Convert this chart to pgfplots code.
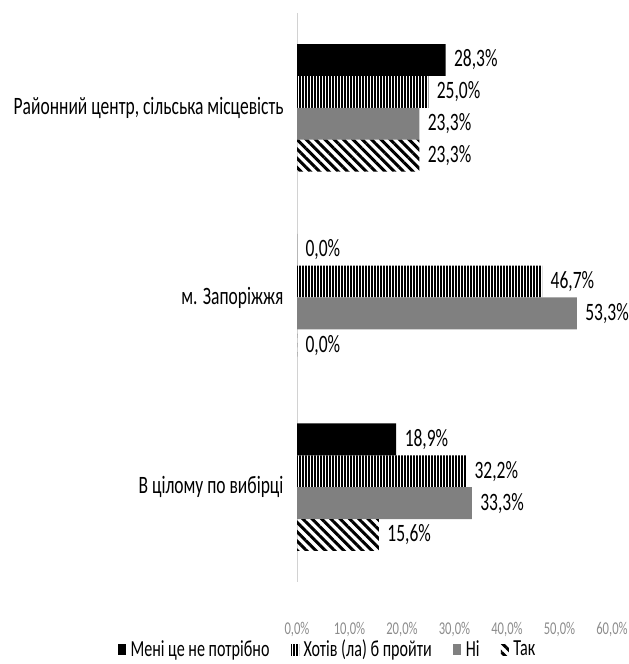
\documentclass[border=0pt]{standalone}
\usepackage{fontspec}
\setmainfont{Carlito}[FakeStretch=0.7]
\usepackage{pgfplots}
\pgfplotsset{compat=1.18}
\usetikzlibrary{patterns.meta}
\definecolor{barGray}{RGB}{128,128,128}
\definecolor{tickGray}{RGB}{140,140,140}
\definecolor{axisGray}{RGB}{210,210,210}
\newcommand\lblfont{\fontsize{25bp}{29bp}\selectfont}
\newcommand\legfont{\fontsize{23bp}{25bp}\selectfont}
\newcommand\tickfont{\fontsize{18bp}{21bp}\selectfont}

% shares, percent; rows: district centre / Zaporizhzhia / whole sample
\pgfplotstableread{
pos notneed want no yes
0   28.3    25.0 23.3 23.3
1   0.0     46.7 53.3 0.0
2   18.9    32.2 33.3 15.6
}\survey

\begin{document}
\begin{tikzpicture}[x=1bp,y=1bp]
\path[use as bounding box] (0,0) rectangle (629,664);
\begin{axis}[
  at={(297bp,82bp)}, anchor=south west,
  scale only axis, width=315bp, height=569bp,
  xbar=0pt, bar width=0.168,
  xmin=0, xmax=60, ymin=-0.5, ymax=2.5, y dir=reverse,
  axis lines*=left,
  x axis line style={draw=none},
  y axis line style={draw=axisGray, line width=1bp},
  major tick length=0pt,
  xtick={0,10,...,60},
  xticklabel={\pgfmathprintnumber[fixed,fixed zerofill,precision=1,use comma,assume math mode=true]{\tick}\%},
  xticklabel style={font=\tickfont, text=tickGray, inner sep=0.5bp, yshift=-40bp},
  ytick={0,1,2},
  yticklabels={{Районний центр, сільська місцевість},{м. Запоріжжя},{В цілому по вибірці}},
  yticklabel style={font=\lblfont, xshift=-10bp},
  nodes near coords={\pgfmathprintnumber[fixed,fixed zerofill,precision=1,use comma,assume math mode=true]{\pgfplotspointmeta}\%},
  nodes near coords style={font=\lblfont, anchor=west, xshift=5bp},
  legend style={at={(0.095,-0.118)}, anchor=center, legend columns=-1, draw=none, font=\legfont,
    inner sep=0pt, nodes={inner sep=0.5bp},
    /tikz/every odd column/.append style={column sep=4bp},
    /tikz/every even column/.append style={column sep=21bp}},
  legend image code/.code={\path[#1,draw=none] (0bp,-6bp) rectangle (8bp,5bp);},
]
\addplot[fill=black, draw=none] table[x=notneed, y=pos] {\survey};
\addlegendentry{Мені це не потрібно}
\addplot[pattern={Lines[angle=90,distance=3bp,line width=1.3bp]}, draw=none] table[x=want, y=pos] {\survey};
\addlegendentry{Хотів (ла) б пройти}
\addplot[fill=barGray, draw=none] table[x=no, y=pos] {\survey};
\addlegendentry{Ні}
\addplot[pattern={Lines[angle=-45,distance=6.6bp,line width=3bp]}, draw=none] table[x=yes, y=pos] {\survey};
\addlegendentry{Так}
\end{axis}
\end{tikzpicture}
\end{document}
